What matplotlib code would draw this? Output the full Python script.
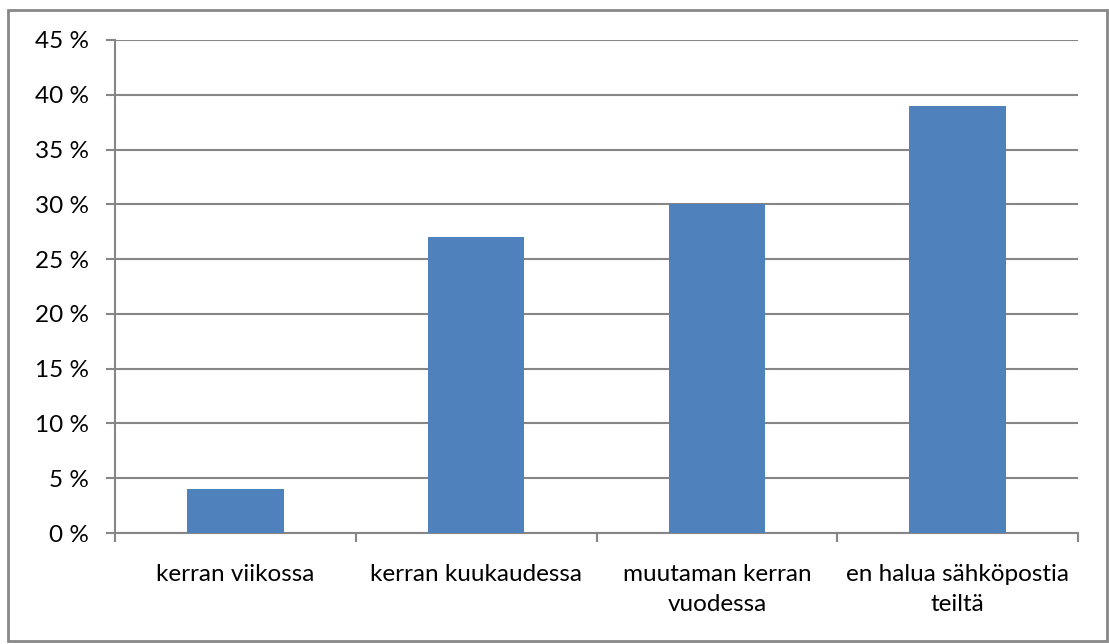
import matplotlib
matplotlib.use('Agg')
import matplotlib.pyplot as plt
from matplotlib.patches import Rectangle
from matplotlib.ticker import FuncFormatter, MultipleLocator
import numpy as np

categories = ['kerran viikossa', 'kerran kuukaudessa',
              'muutaman kerran\nvuodessa', 'en halua sähköpostia\nteiltä']
shares = [4, 27, 30, 39]

plt.rcParams['font.family'] = ['Lato', 'DejaVu Sans']
grey = '#868686'

fig = plt.figure(figsize=(11.09, 6.44), dpi=100)
ax = fig.add_axes([115 / 1109, 111 / 644, 963 / 1109, 493 / 644])

x = np.arange(len(categories))
ax.bar(x, shares, width=0.4, color='#4F81BD', zorder=3)

ax.set_xlim(-0.5, len(categories) - 0.5)
ax.set_ylim(0, 45)
ax.yaxis.set_major_locator(MultipleLocator(5))
ax.yaxis.set_major_formatter(FuncFormatter(lambda v, _: f'{v:.0f} %'))
ax.grid(axis='y', color=grey, linewidth=1.5, zorder=0)

# category labels sit between the boundary ticks
ax.set_xticks(x)
ax.set_xticklabels(categories, fontsize=17.5, linespacing=1.55)
ax.tick_params(axis='x', length=0, pad=22)
ax.set_xticks(np.arange(len(categories) + 1) - 0.5, minor=True)
ax.tick_params(axis='x', which='minor', length=6.5, width=1.5, color=grey, direction='out')
ax.tick_params(axis='y', length=6.5, width=1.5, color=grey, labelsize=17.5, pad=12)

for side in ('top', 'right'):
    ax.spines[side].set_visible(False)
for side in ('left', 'bottom'):
    ax.spines[side].set_color(grey)
    ax.spines[side].set_linewidth(1.5)

# chart area frame
fig.patches.append(Rectangle((8 / 1109, 3 / 644), 1099 / 1109, 631 / 644,
                             transform=fig.transFigure, fill=False,
                             edgecolor='#888888', linewidth=2))

fig.savefig('out.png', dpi=100)
